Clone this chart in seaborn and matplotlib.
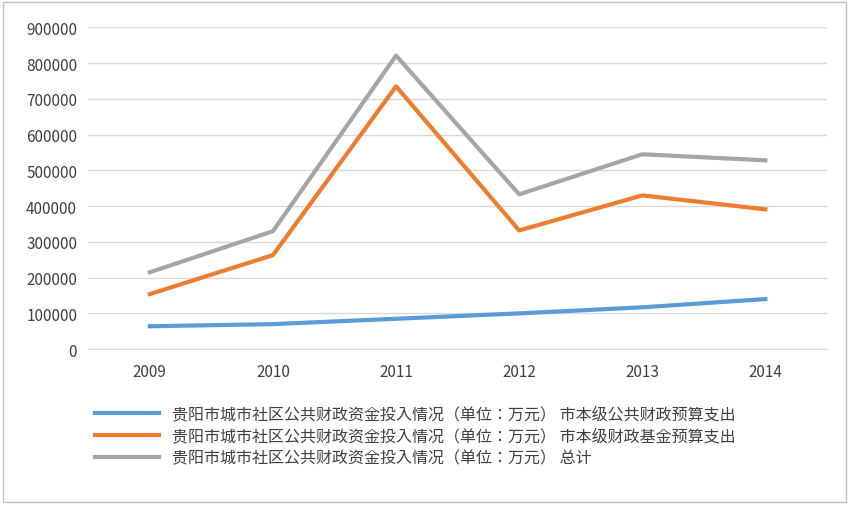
import matplotlib
matplotlib.use("Agg")
import matplotlib.pyplot as plt
from matplotlib import font_manager
import seaborn as sns
import pandas as pd

years = ["2009", "2010", "2011", "2012", "2013", "2014"]
city_public = [64000, 70000, 85000, 100000, 117000, 140000]
city_fund = [154000, 263000, 735000, 332000, 430000, 391000]
total = [215000, 330000, 821000, 433000, 545000, 528000]
prefix = "贵阳市城市社区公共财政资金投入情况（单位：万元）"
series_names = [prefix + " 市本级公共财政预算支出",
                prefix + " 市本级财政基金预算支出",
                prefix + " 总计"]
colors = ["#5b9bd5", "#ed7d31", "#a5a5a5"]
yticks = list(range(0, 900001, 100000))

# find a CJK font file and register it
cjk = None
for f in font_manager.findSystemFonts():
    if "NotoSansCJK" in f.replace(" ", "") or "NotoSansSC" in f:
        cjk = f
        if "Regular" in f:
            break
if cjk:
    font_manager.fontManager.addfont(cjk)
    cjk_name = font_manager.FontProperties(fname=cjk).get_name()
else:
    cjk_name = "Noto Sans CJK SC"
plt.rcParams["font.family"] = "sans-serif"
plt.rcParams["font.sans-serif"] = [cjk_name, "Noto Sans CJK SC", "DejaVu Sans"]

df = pd.DataFrame({"year": years * 3,
                   "value": city_public + city_fund + total,
                   "series": sum([[n] * len(years) for n in series_names], [])})

fig = plt.figure(figsize=(8.49, 5.06), dpi=100)
ax = fig.add_axes([0.104, 0.308, 0.87, 0.636])
sns.lineplot(data=df, x="year", y="value", hue="series", palette=colors,
             linewidth=3, ax=ax, legend=False, sort=False)
ax.set_xlim(-0.5, 5.5)
ax.set_ylim(0, 900000)
ax.set_yticks(yticks)
ax.set_yticklabels([str(t) for t in yticks], fontsize=11, color="#404040")
ax.tick_params(axis="x", labelsize=11, colors="#404040", length=0, pad=10)
ax.tick_params(axis="y", length=0, pad=8)
ax.grid(axis="y", color="#d9d9d9", linewidth=1)
ax.set_axisbelow(True)
for s in ["top", "right", "left"]:
    ax.spines[s].set_visible(False)
ax.spines["bottom"].set_color("#d9d9d9")
ax.set_xlabel("")
ax.set_ylabel("")

handles = [plt.Line2D([], [], color=c, linewidth=3) for c in colors]
fig.legend(handles, series_names, loc="upper left", bbox_to_anchor=(0.095, 0.225),
           frameon=False, fontsize=11.5, handlelength=4, labelspacing=0.3,
           labelcolor="#404040")
fig.patches.append(plt.Rectangle((0.004, 0.006), 0.992, 0.988, transform=fig.transFigure,
                                 fill=False, edgecolor="#bfbfbf", linewidth=1))
fig.savefig("out.png", dpi=100)
